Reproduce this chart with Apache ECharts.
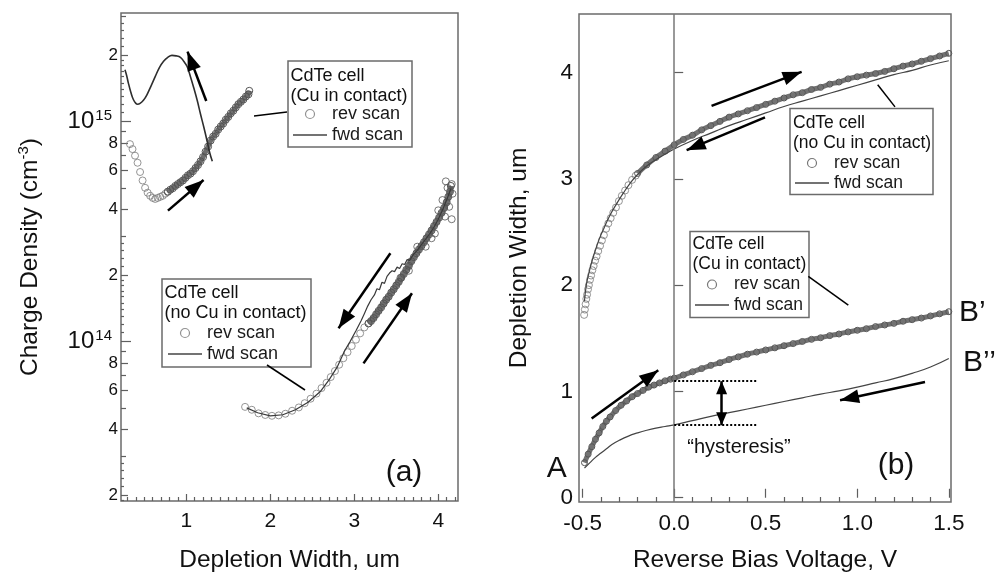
<!DOCTYPE html>
<html><head><meta charset="utf-8">
<script src="https://cdn.jsdelivr.net/npm/echarts@6/dist/echarts.min.js"></script>
<style>html,body{margin:0;padding:0;background:#fff}#c{width:995px;height:578px}</style>
</head><body><div id="c"></div>
<script>
const FONT = '"Liberation Sans", Arial, Helvetica, sans-serif';
const INK = '#111';
const FRAME = '#6b6b6b';

// ---------------- Panel (a): charge density vs depletion width ----------------
const xTickA = [1, 2, 3, 4];
const yTickValA = [2e13, 4e13, 6e13, 8e13, 1e14, 2e14, 4e14, 6e14, 8e14, 1e15, 2e15];
const yTickTxtA = ['2', '4', '6', '8', '{b|10}{s|14}', '2', '4', '6', '8', '{b|10}{s|15}', '2'];

// Cu in contact, reverse scan: isolated circles, then the dense band
const cuRevSparseA_x = [0.33,0.36,0.39,0.42,0.45,0.48,0.51,0.54,0.57,0.60,0.63,0.66,0.69,0.72,0.75,0.78];
const cuRevSparseA_y = [7.9e14,7.5e14,7.0e14,6.5e14,5.9e14,5.4e14,5.0e14,4.75e14,4.6e14,4.5e14,4.45e14,4.5e14,4.55e14,4.6e14,4.7e14,4.8e14];
const cuRevBandA_x = [0.78,0.81,0.84,0.87,0.90,0.93,0.96,0.99,1.02,1.05,1.08,1.11,1.14,1.17,1.20,1.23,1.26,1.29,1.32,1.35,
  1.38,1.41,1.44,1.47,1.50,1.53,1.56,1.59,1.62,1.65,1.68,1.71,1.74,1.75];
const cuRevBandA_y = [4.8e14,4.9e14,4.98e14,5.1e14,5.2e14,5.3e14,5.4e14,5.55e14,5.7e14,5.8e14,5.95e14,6.15e14,6.35e14,6.6e14,6.9e14,7.3e14,7.7e14,8.2e14,8.55e14,8.8e14,
  9.2e14,9.5e14,9.8e14,1.02e15,1.05e15,1.09e15,1.12e15,1.16e15,1.2e15,1.23e15,1.26e15,1.3e15,1.33e15,1.38e15];

const cuFwdA_x = [0.27,0.29,0.31,0.34,0.37,0.40,0.42,0.45,0.49,0.53,0.58,0.63,0.68,0.73,0.78,0.83,0.88,0.93,0.97,1.01,1.05,1.09,1.13,1.17,1.21,1.25,1.28,1.31];
const cuFwdA_y = [1.72e15,1.62e15,1.5e15,1.36e15,1.26e15,1.21e15,1.2e15,1.21e15,1.25e15,1.32e15,1.45e15,1.6e15,1.76e15,1.88e15,1.96e15,2.0e15,1.99e15,1.96e15,1.88e15,1.78e15,1.6e15,1.42e15,1.25e15,1.08e15,9.4e14,8.1e14,7.2e14,6.6e14];

// no Cu in contact, reverse scan: isolated circles, dense band, scattered end points
const noCuRevSparseA_x = [1.70,1.78,1.86,1.94,2.02,2.10,2.18,2.26,2.34,2.41,2.48,2.55,2.61,2.67,2.72,2.77,2.82,2.87,2.92,2.97,3.02,3.07,3.12,3.17];
const noCuRevSparseA_y = [5.05e13,4.9e13,4.72e13,4.64e13,4.6e13,4.62e13,4.7e13,4.85e13,5.02e13,5.25e13,5.5e13,5.8e13,6.15e13,6.5e13,6.9e13,7.35e13,7.85e13,8.4e13,8.95e13,9.55e13,1.02e14,1.09e14,1.16e14,1.21e14];
const noCuRevBandA_x = [3.17,3.20,3.23,3.26,3.29,3.32,3.35,3.38,3.41,3.44,3.47,3.50,3.53,3.56,3.59,3.62,3.65,3.68,3.71,3.74,3.77,3.80,3.83,3.86,3.89,3.92,3.95,3.98,
  4.01,4.04,4.07,4.10,4.12,4.14,4.15];
const noCuRevBandA_y = [1.21e14,1.24e14,1.28e14,1.33e14,1.38e14,1.43e14,1.49e14,1.55e14,1.60e14,1.67e14,1.73e14,1.80e14,1.87e14,1.95e14,2.03e14,2.12e14,2.21e14,2.32e14,2.42e14,2.52e14,2.62e14,2.72e14,2.83e14,2.95e14,3.07e14,3.2e14,3.35e14,3.5e14,
  3.66e14,3.85e14,4.05e14,4.3e14,4.55e14,4.8e14,5.1e14];
const noCuRevScatterA_x = [4.05,4.08,4.11,4.13,4.16,4.17,4.09,4.16,3.96,3.92,4.00,3.85,3.75,3.65,3.55];
const noCuRevScatterA_y = [4.4e14,3.7e14,5.0e14,4.1e14,3.6e14,4.7e14,5.35e14,5.2e14,3.1e14,2.95e14,3.95e14,2.7e14,2.7e14,2.1e14,1.95e14];

const noCuFwdA_x = [1.72,1.85,2.00,2.15,2.30,2.45,2.60,2.70,2.80,2.88,2.95,3.02,3.08,3.12,3.16,3.20,3.24,3.27,3.30,3.33,3.36,3.39,3.42,3.45,3.48,3.51,3.54,3.57,3.60,3.63,3.66,3.70,3.75,3.80,3.85,3.90,3.95,4.00,4.05,4.10,4.15];
const noCuFwdA_y = [5.0e13,4.75e13,4.6e13,4.65e13,4.9e13,5.3e13,5.95e13,6.7e13,7.7e13,9.0e13,1.0e14,1.12e14,1.24e14,1.34e14,1.45e14,1.55e14,1.63e14,1.74e14,1.72e14,1.86e14,1.84e14,1.98e14,2.05e14,2.1e14,2.08e14,2.18e14,2.15e14,2.26e14,2.24e14,2.36e14,2.34e14,2.48e14,2.6e14,2.76e14,2.92e14,3.1e14,3.32e14,3.6e14,3.95e14,4.4e14,4.95e14];

// arrows of panel (a): [x0, y0, x1, y1] (tail -> head)
const arrowsA = [[1.238,1.24e15,1.015,2.08e15],[0.782,3.94e14,1.206,5.43e14],[3.43,2.52e14,2.813,1.15e14],[3.11,7.96e13,3.687,1.66e14]];

// ---------------- Panel (b): depletion width vs reverse bias ----------------
const xTickValB = [-0.5, 0, 0.5, 1.0, 1.5];
const xTickTxtB = ['-0.5', '0.0', '0.5', '1.0', '1.5'];
const yTickB = [0, 1, 2, 3, 4];

const noCuRevSteepB_v = [-0.492,-0.488,-0.484,-0.480,-0.476,-0.471,-0.466,-0.460,-0.454,-0.447,-0.440,-0.432,-0.424,-0.415,-0.405,-0.395,-0.384,-0.372,-0.360,-0.347,-0.333,-0.318,-0.302,-0.286,-0.268,-0.250,-0.230,-0.210];
const noCuRevSteepB_w = [1.72,1.77,1.82,1.87,1.91,1.96,2.00,2.05,2.09,2.14,2.18,2.23,2.27,2.32,2.37,2.42,2.47,2.53,2.58,2.63,2.68,2.73,2.79,2.84,2.89,2.94,2.99,3.03];
const noCuRevB_v = [-0.20,-0.15,-0.10,-0.05,0.00,0.05,0.10,0.15,0.20,0.25,0.30,0.35,0.40,0.45,0.50,0.55,0.60,0.65,0.70,0.75,0.80,0.85,0.90,0.95,1.00,1.05,1.10,1.15,1.20,1.25,1.30,1.35,1.40,1.45,1.50];
const noCuRevB_w = [3.05,3.13,3.20,3.26,3.32,3.37,3.41,3.46,3.50,3.54,3.58,3.61,3.64,3.67,3.70,3.73,3.76,3.79,3.81,3.84,3.86,3.89,3.91,3.94,3.96,3.975,3.99,4.01,4.035,4.06,4.08,4.105,4.13,4.155,4.18];
const noCuFwdB_v = [-0.49,-0.48,-0.465,-0.45,-0.43,-0.41,-0.38,-0.35,-0.32,-0.28,-0.24,-0.20,-0.15,-0.10,-0.05,0.0,0.1,0.2,0.3,0.4,0.5,0.6,0.7,0.8,0.9,1.0,1.1,1.2,1.3,1.4,1.5];
const noCuFwdB_w = [1.85,2.0,2.12,2.22,2.33,2.43,2.55,2.66,2.75,2.86,2.96,3.04,3.12,3.18,3.23,3.28,3.36,3.43,3.50,3.56,3.62,3.68,3.73,3.78,3.83,3.88,3.93,3.98,4.02,4.07,4.11];
const cuRevB_v = [-0.49,-0.47,-0.45,-0.43,-0.41,-0.39,-0.37,-0.35,-0.32,-0.29,-0.26,-0.23,-0.20,-0.17,-0.14,-0.11,-0.08,-0.05,-0.02,0.0,
  0.05,0.10,0.15,0.20,0.25,0.30,0.35,0.40,0.45,0.50,0.55,0.60,0.65,0.70,0.75,0.80,0.85,0.90,0.95,1.00,1.05,1.10,1.15,1.20,1.25,1.30,1.35,1.40,1.45,1.50];
const cuRevB_w = [0.33,0.41,0.48,0.55,0.61,0.67,0.72,0.76,0.82,0.87,0.91,0.95,0.98,1.01,1.04,1.06,1.08,1.10,1.115,1.125,
  1.155,1.185,1.215,1.245,1.27,1.30,1.325,1.35,1.37,1.39,1.41,1.43,1.45,1.47,1.49,1.505,1.525,1.54,1.56,1.575,1.59,1.61,1.625,1.64,1.66,1.675,1.69,1.71,1.73,1.75];
const cuFwdB_v = [-0.49,-0.46,-0.43,-0.40,-0.37,-0.34,-0.30,-0.25,-0.20,-0.15,-0.10,-0.05,0.0,0.1,0.2,0.3,0.4,0.5,0.6,0.7,0.8,0.9,1.0,1.1,1.2,1.3,1.4,1.5];
const cuFwdB_w = [0.28,0.33,0.38,0.42,0.46,0.50,0.54,0.58,0.61,0.635,0.655,0.67,0.685,0.725,0.765,0.80,0.835,0.87,0.905,0.94,0.975,1.005,1.04,1.08,1.12,1.17,1.23,1.31];

// annotations of panel (b)
const arrowsB = [[0.204,3.686,0.696,4.006],[0.496,3.577,0.068,3.269],[-0.451,0.745,-0.087,1.199],[1.37,1.089,0.906,0.917]];
const hystB = { v: 0.259, top: 1.096, bottom: 0.682, dotEnd: 0.45 };

// ---------------- build ----------------
const lg = Math.log10;
const pairsA = (xs, ys) => xs.map((x, i) => [x, lg(ys[i])]);
const pairsB = (xs, ys) => xs.map((x, i) => [x, ys[i]]);

const Y_MIN_A = 13.2755, Y_MAX_A = 15.4936, X_MIN_A = 0.223, X_MAX_A = 4.235;
const X_MIN_B = -0.52, X_MAX_B = 1.512, Y_MIN_B = -0.04, Y_MAX_B = 4.55;

const decA = [1e14, 1e15].map(lg);
const labA = yTickValA.filter(v => v !== 1e14 && v !== 1e15).map(lg);
const minorA = [], tinyA = [];
for (const e of [13, 14, 15]) {
  for (const m of [3, 5, 7, 9]) minorA.push(lg(m) + e);
  for (const m of [1.1, 1.2, 1.3, 1.4, 1.5, 1.6, 1.7, 1.8, 1.9, 2.2, 2.4, 2.6, 2.8]) tinyA.push(lg(m) + e);
}
const xMinorA = []; for (let k = 3; k <= 42; k++) if (k % 10) xMinorA.push(k / 10);
const xMinorB = []; for (let k = -4; k <= 15; k++) if (k % 5) xMinorB.push(k / 10);

const tickStyle = { color: '#5f5f5f', width: 1.2 };
function tickAxis(gridIndex, min, max, vals, len, pos) {
  return { gridIndex, type: 'value', min, max, position: pos, axisLine: { show: false }, splitLine: { show: false },
    axisLabel: { show: false }, axisTick: { show: true, inside: true, length: len, customValues: vals, lineStyle: tickStyle } };
}
const findLabel = (vals, txt) => v => { for (let i = 0; i < vals.length; i++) if (Math.abs(vals[i] - v) < 1e-6) return txt[i]; return ''; };

const circ = { color: 'rgba(0,0,0,0)', borderColor: '#7a7a7a', borderWidth: 1 };
const bandCirc = { color: 'rgba(0,0,0,0)', borderColor: '#555', borderWidth: 1 };
const arrowMark = (list, conv) => ({
  silent: true, animation: false, symbol: ['none', 'triangle'], symbolSize: [14, 19],
  symbolOffset: [[0, 0], [0, '50%']], label: { show: false },
  lineStyle: { color: '#000', width: 2.5, type: 'solid' }, emphasis: { disabled: true },
  data: list.map(a => [{ coord: [a[0], conv(a[1])] }, { coord: [a[2], conv(a[3])] }])
});

const LINE_ICON = 'path://M0,0H34V1.4H0Z';
const legendLabel = { 'Cu rev (a)': 'rev scan', 'Cu fwd (a)': 'fwd scan', 'noCu rev (a)': 'rev scan', 'noCu fwd (a)': 'fwd scan',
  'noCu rev (b)': 'rev scan', 'noCu fwd (b)': 'fwd scan', 'Cu rev (b)': 'rev scan', 'Cu fwd (b)': 'fwd scan' };
function legendBox(left, top, gap, fs, revName, fwdName) {
  return { left, top, padding: 0, orient: 'vertical', itemWidth: 34, itemHeight: 9, itemGap: gap, selectedMode: false,
    textStyle: { fontSize: fs, lineHeight: 20, color: '#1a1a1a', fontFamily: FONT }, formatter: n => legendLabel[n],
    data: [ { name: revName, icon: 'circle', itemStyle: { color: 'rgba(0,0,0,0)', borderColor: '#777', borderWidth: 1.2 } },
            { name: fwdName, icon: LINE_ICON, itemStyle: { color: '#444', borderWidth: 0 } } ] };
}

const txt = (x, y, text, fs, align, extra) => Object.assign({ type: 'text', x, y, silent: true,
  style: { text, fontSize: fs, fontFamily: FONT, fill: INK, align: align || 'center', verticalAlign: 'middle' } }, extra || {});
const box = (x, y, w, h) => ({ type: 'rect', silent: true, shape: { x, y, width: w, height: h }, style: { fill: 'rgba(0,0,0,0)', stroke: FRAME, lineWidth: 1.5 } });
const seg = (x1, y1, x2, y2) => ({ type: 'line', silent: true, shape: { x1, y1, x2, y2 }, style: { stroke: '#000', lineWidth: 1.5 } });

const option = {
  animation: false,
  backgroundColor: '#fff',
  grid: [
    { left: 121, top: 13, width: 337, height: 488, show: true, borderColor: FRAME, borderWidth: 1.5, outerBoundsMode: 'none' },
    { left: 579, top: 14, width: 372, height: 488, show: true, borderColor: FRAME, borderWidth: 1.5, outerBoundsMode: 'none' }
  ],
  xAxis: [
    { gridIndex: 0, type: 'value', min: X_MIN_A, max: X_MAX_A, position: 'bottom', axisLine: { show: false }, splitLine: { show: false },
      axisTick: { inside: true, length: 7, customValues: xTickA, lineStyle: tickStyle },
      axisLabel: { customValues: xTickA, fontSize: 21, color: INK, margin: 10, fontFamily: FONT },
      name: 'Depletion Width, um', nameLocation: 'middle', nameGap: 47, nameMoveOverlap: false,
      nameTextStyle: { fontSize: 24.5, color: INK, fontFamily: FONT } },
    tickAxis(0, X_MIN_A, X_MAX_A, xMinorA, 4, 'bottom'),
    { gridIndex: 1, type: 'value', min: X_MIN_B, max: X_MAX_B, position: 'bottom', axisLine: { show: false }, splitLine: { show: false },
      axisTick: { inside: true, length: 9, customValues: xTickValB, lineStyle: tickStyle },
      axisLabel: { customValues: xTickValB, formatter: findLabel(xTickValB, xTickTxtB), fontSize: 22.5, color: INK, margin: 10, fontFamily: FONT },
      name: 'Reverse Bias Voltage, V', nameLocation: 'middle', nameGap: 46, nameMoveOverlap: false,
      nameTextStyle: { fontSize: 24.5, color: INK, fontFamily: FONT } },
    tickAxis(1, X_MIN_B, X_MAX_B, xMinorB, 5, 'bottom')
  ],
  yAxis: [
    { gridIndex: 0, type: 'value', min: Y_MIN_A, max: Y_MAX_A, position: 'left', axisLine: { show: false }, splitLine: { show: false },
      axisTick: { inside: true, length: 10, customValues: decA, lineStyle: tickStyle },
      axisLabel: { customValues: yTickValA.map(lg), formatter: findLabel(yTickValA.map(lg), yTickTxtA), fontSize: 17, color: INK, margin: 3, fontFamily: FONT,
        rich: { b: { fontSize: 24, fontFamily: FONT, color: INK, lineHeight: 26 },
                s: { fontSize: 15, fontFamily: FONT, color: INK, lineHeight: 15, verticalAlign: 'top', padding: [0, 6, 0, 1] } } },
      name: '{a|Charge Density (cm}{s|-3}{a|)}', nameLocation: 'middle', nameGap: 77, nameMoveOverlap: false,
      nameTextStyle: { fontSize: 24.5, color: INK, fontFamily: FONT,
        rich: { a: { fontSize: 24.5, fontFamily: FONT, color: INK, lineHeight: 28 },
                s: { fontSize: 15, fontFamily: FONT, color: INK, lineHeight: 15, verticalAlign: 'top' } } } },
    tickAxis(0, Y_MIN_A, Y_MAX_A, labA, 7, 'left'),
    tickAxis(0, Y_MIN_A, Y_MAX_A, minorA, 5, 'left'),
    tickAxis(0, Y_MIN_A, Y_MAX_A, tinyA, 3, 'left'),
    { gridIndex: 1, type: 'value', min: Y_MIN_B, max: Y_MAX_B, position: 'left', axisLine: { show: false }, splitLine: { show: false },
      axisTick: { inside: true, length: 9, customValues: yTickB, lineStyle: tickStyle },
      axisLabel: { customValues: yTickB, fontSize: 22.5, color: INK, margin: 6, fontFamily: FONT },
      name: 'Depletion Width, um', nameLocation: 'middle', nameGap: 47, nameMoveOverlap: false,
      nameTextStyle: { fontSize: 24.5, color: INK, fontFamily: FONT } }
  ],
  legend: [
    legendBox(293, 104, 1, 18, 'Cu rev (a)', 'Cu fwd (a)'),
    legendBox(168, 323, 1, 18, 'noCu rev (a)', 'noCu fwd (a)'),
    legendBox(795, 153, 0, 17.5, 'noCu rev (b)', 'noCu fwd (b)'),
    legendBox(695, 274.5, 0.5, 17.5, 'Cu rev (b)', 'Cu fwd (b)')
  ],
  series: [
    // ---- panel (a)
    { name: 'Cu rev (a)', type: 'scatter', xAxisIndex: 0, yAxisIndex: 0, data: pairsA(cuRevSparseA_x, cuRevSparseA_y),
      symbol: 'circle', symbolSize: 7, itemStyle: circ, z: 2 },
    { name: 'Cu rev band (a)', type: 'line', xAxisIndex: 0, yAxisIndex: 0, data: pairsA(cuRevBandA_x, cuRevBandA_y), smooth: 0.3,
      symbol: 'circle', symbolSize: 7, showSymbol: true, itemStyle: bandCirc, lineStyle: { color: '#6e6e6e', width: 5 }, z: 2 },
    { name: 'Cu fwd (a)', type: 'line', xAxisIndex: 0, yAxisIndex: 0, data: pairsA(cuFwdA_x, cuFwdA_y), smooth: 0.4,
      showSymbol: false, symbol: 'none', lineStyle: { color: '#2e2e2e', width: 1.6 }, itemStyle: { color: '#2e2e2e' }, z: 3,
      markLine: arrowMark(arrowsA, lg) },
    { name: 'noCu rev (a)', type: 'scatter', xAxisIndex: 0, yAxisIndex: 0, data: pairsA(noCuRevSparseA_x, noCuRevSparseA_y),
      symbol: 'circle', symbolSize: 7, itemStyle: circ, z: 2 },
    { name: 'noCu rev band (a)', type: 'line', xAxisIndex: 0, yAxisIndex: 0, data: pairsA(noCuRevBandA_x, noCuRevBandA_y),
      symbol: 'circle', symbolSize: 7, showSymbol: true, itemStyle: bandCirc, lineStyle: { color: '#6e6e6e', width: 6 }, z: 2 },
    { name: 'noCu rev scatter (a)', type: 'scatter', xAxisIndex: 0, yAxisIndex: 0, data: pairsA(noCuRevScatterA_x, noCuRevScatterA_y),
      symbol: 'circle', symbolSize: 7, itemStyle: bandCirc, z: 2 },
    { name: 'noCu fwd (a)', type: 'line', xAxisIndex: 0, yAxisIndex: 0, data: pairsA(noCuFwdA_x, noCuFwdA_y),
      showSymbol: false, symbol: 'none', lineStyle: { color: '#3a3a3a', width: 1.2 }, itemStyle: { color: '#3a3a3a' }, z: 3 },
    // ---- panel (b)
    { name: 'noCu rev steep (b)', type: 'scatter', xAxisIndex: 2, yAxisIndex: 4, data: pairsB(noCuRevSteepB_v, noCuRevSteepB_w),
      symbol: 'circle', symbolSize: 7, itemStyle: circ, z: 2,
      markLine: { silent: true, symbol: ['none', 'none'], label: { show: false }, emphasis: { disabled: true },
        lineStyle: { color: '#777', width: 1.5, type: 'solid' }, data: [{ xAxis: 0 }] } },
    { name: 'noCu rev (b)', type: 'line', xAxisIndex: 2, yAxisIndex: 4, data: pairsB(noCuRevB_v, noCuRevB_w), smooth: true,
      symbol: 'circle', symbolSize: 6, showSymbol: true, itemStyle: bandCirc,
      lineStyle: { color: '#727272', width: 5 }, z: 2 },
    { name: 'noCu fwd (b)', type: 'line', xAxisIndex: 2, yAxisIndex: 4, data: pairsB(noCuFwdB_v, noCuFwdB_w), smooth: true,
      showSymbol: false, symbol: 'none', lineStyle: { color: '#444', width: 1.2 }, itemStyle: { color: '#444' }, z: 3,
      markLine: arrowMark(arrowsB, v => v) },
    { name: 'Cu rev (b)', type: 'line', xAxisIndex: 2, yAxisIndex: 4, data: pairsB(cuRevB_v, cuRevB_w), smooth: true,
      symbol: 'circle', symbolSize: 6, showSymbol: true, itemStyle: bandCirc,
      lineStyle: { color: '#727272', width: 5 }, z: 2,
      markLine: { silent: true, symbol: ['none', 'none'], label: { show: false }, emphasis: { disabled: true },
        lineStyle: { color: '#000', width: 2, type: 'dotted' },
        data: [[{ coord: [0, hystB.top] }, { coord: [hystB.dotEnd, hystB.top] }], [{ coord: [0, hystB.bottom] }, { coord: [hystB.dotEnd, hystB.bottom] }]] } },
    { name: 'Cu fwd (b)', type: 'line', xAxisIndex: 2, yAxisIndex: 4, data: pairsB(cuFwdB_v, cuFwdB_w), smooth: true,
      showSymbol: false, symbol: 'none', lineStyle: { color: '#444', width: 1.2 }, itemStyle: { color: '#444' }, z: 3,
      markLine: { silent: true, symbol: ['triangle', 'triangle'], symbolSize: [11, 13], symbolOffset: [[0, '50%'], [0, '50%']],
        label: { show: false }, emphasis: { disabled: true }, lineStyle: { color: '#000', width: 2.5, type: 'solid' },
        data: [[{ coord: [hystB.v, hystB.top] }, { coord: [hystB.v, hystB.bottom] }]] } }
  ],
  graphic: [
    box(288, 61, 124, 86), txt(290.5, 76, 'CdTe cell', 18, 'left'), txt(290.5, 96, '(Cu in contact)', 18, 'left'),
    box(162, 279, 149, 88), txt(164.5, 293, 'CdTe cell', 18, 'left'), txt(164.5, 313, '(no Cu in contact)', 18, 'left'),
    box(790, 108.5, 143, 86), txt(793, 123, 'CdTe cell', 17.5, 'left'), txt(793, 143, '(no Cu in contact)', 17.5, 'left'),
    box(690, 231.5, 119, 86), txt(692.5, 244.5, 'CdTe cell', 17.5, 'left'), txt(692.5, 264.5, '(Cu in contact)', 17.5, 'left'),
    seg(254, 116, 287, 112), seg(267, 365, 305, 390), seg(877.7, 84.8, 895, 106.9), seg(808.3, 276.4, 848.3, 305.2),
    txt(404, 472.5, '(a)', 30), txt(896, 466, '(b)', 30),
    txt(556.7, 468.5, 'A', 30), txt(959, 313, 'B\u2019', 30, 'left'), txt(963, 363, 'B\u2019\u2019', 30, 'left'),
    txt(739, 447, '\u201Chysteresis\u201D', 20)
  ]
};

const chart = echarts.init(document.getElementById('c'), null, { renderer: 'canvas' });
chart.setOption(option);
</script>
</body></html>
